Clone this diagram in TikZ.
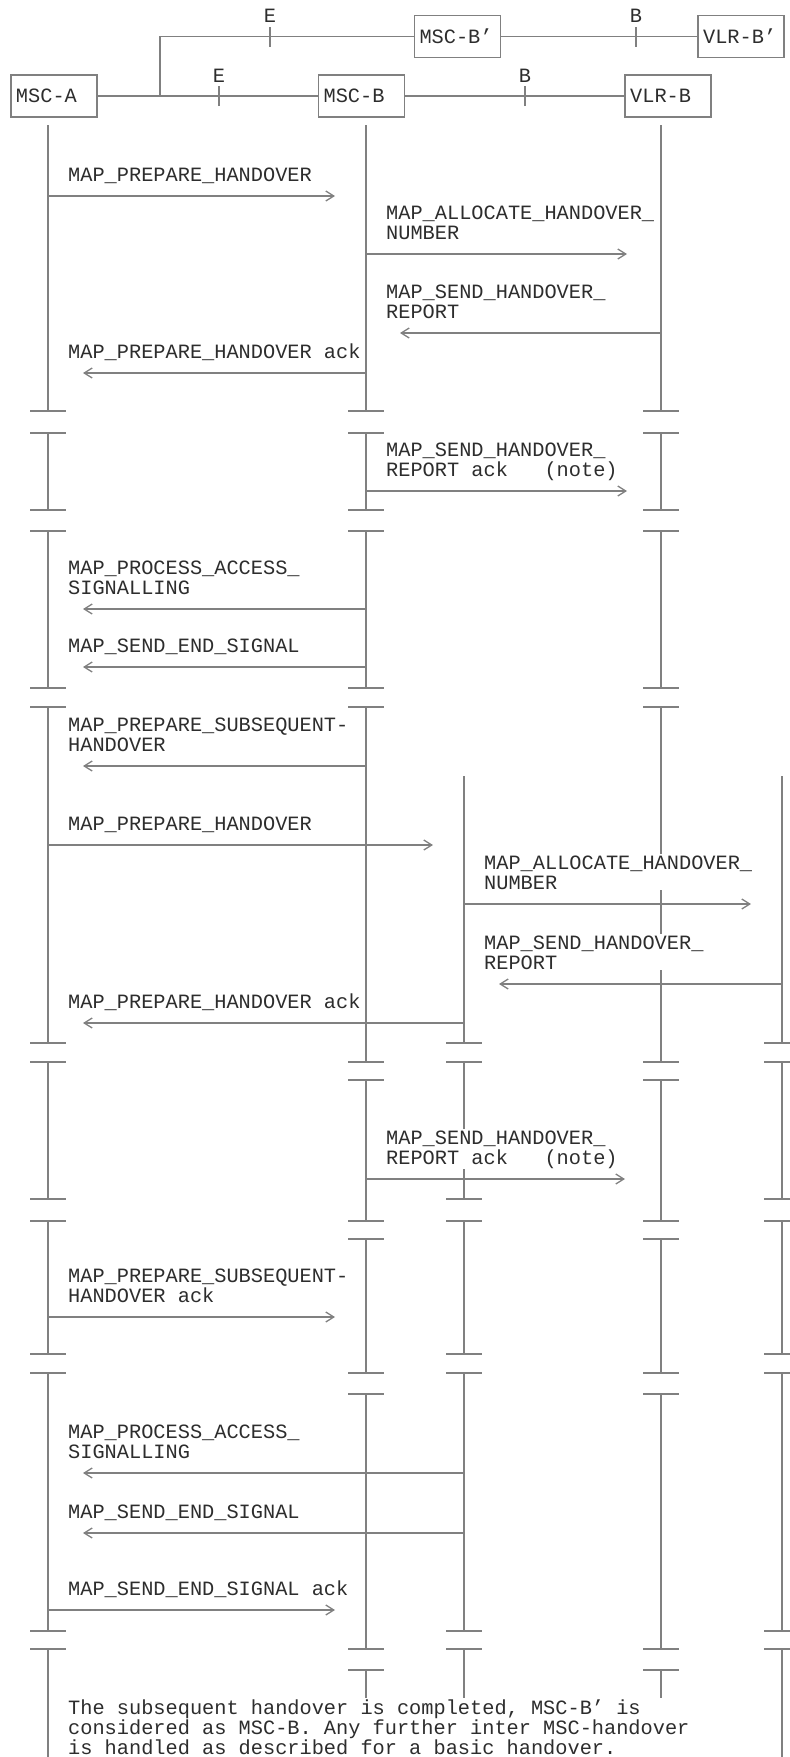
\documentclass[tikz,border=0pt]{standalone}
\usepackage{fontspec}
\setmainfont{Liberation Mono}
\usepackage{xcolor}
\usepackage{tikz}
\usetikzlibrary{arrows.meta,positioning}
\definecolor{seqgray}{RGB}{128,128,128}
\definecolor{seqink}{RGB}{45,45,45}
\newcommand{\seqfont}{\fontsize{20.3pt}{20pt}\selectfont}
\tikzset{
  entitybox/.style={
    rectangle,
    draw=seqgray,
    line width=1.6pt,
    text width=76pt,
    align=left,
    minimum height=42pt,
    inner xsep=5pt,
    inner ysep=0pt,
    text=seqink,
    font=\seqfont
  },
  ifline/.style={
    draw=seqgray,
    line width=1.6pt
  },
  ifmark/.style={
    above,
    inner sep=3pt,
    text=seqink,
    font=\seqfont
  },
  lifeline/.style={
    draw=seqgray,
    line width=1.3pt
  },
  breakbar/.style={
    draw=seqgray,
    line width=2pt
  },
  msgarrow/.style={
    -{Straight Barb[length=8pt,width=10pt]},
    draw=seqgray,
    line width=1.3pt
  },
  msglabel/.style={
    anchor=base west,
    align=left,
    fill=white,
    inner sep=1pt,
    text=seqink,
    font=\seqfont
  }
}

\begin{document}
\begin{tikzpicture}[x=1pt,y=-1pt]
\useasboundingbox (0,0) rectangle (790,1757);

% entities and the interfaces between them
\node[entitybox] (msca) at (54,96) {MSC-A};
\node[entitybox, right=220pt of msca] (mscb) {MSC-B};
\node[entitybox, right=219pt of mscb] (vlrb) {VLR-B};
\node[entitybox] (mscbp) at (457.5,36.5) {MSC-B'};
\node[entitybox, right=196pt of mscbp] (vlrbp) {VLR-B'};

\coordinate (fork) at (160,96);
\draw[ifline] (msca) -- (mscb);
\draw[ifline] (mscb) -- (vlrb);
\draw[ifline] (fork) |- (mscbp);
\draw[ifline] (mscbp) -- (vlrbp);

\draw[ifline] (219,106) -- (219,86) node[ifmark] (ifE) {E};
\draw[ifline] (525,106) -- (525,86) node[ifmark] (ifB) {B};
\draw[ifline] (270,46.5) -- (270,26.5) node[ifmark] (ifEp) {E};
\draw[ifline] (636,46.5) -- (636,26.5) node[ifmark] (ifBp) {B};

% lifelines
\foreach \x/\top/\bot in {48/125/1757,366/125/1700,661/125/1700,464/776/1700,782/776/1757}
  \draw[lifeline] (\x,\top) -- (\x,\bot);

% breaks in the lifelines
\foreach \x/\brks in {
  48/{411/433,510/531,688/707,1043/1062,1199/1221,1354/1373,1631/1649},
  366/{411/433,510/531,688/707,1062/1080,1221/1239,1373/1394,1649/1670},
  661/{411/433,510/531,688/707,1062/1080,1221/1239,1373/1394,1649/1670},
  464/{1043/1062,1199/1221,1354/1373,1631/1649},
  782/{1043/1062,1199/1221,1354/1373,1631/1649}}
  \foreach \a/\b in \brks {
    \fill[white] (\x-3,\a+1) rectangle (\x+3,\b-1);
    \draw[breakbar] (\x-18,\a) -- (\x+18,\a);
    \draw[breakbar] (\x-18,\b) -- (\x+18,\b);
  }

% messages
\foreach \n/\y/\xs/\xe/\xl/\txt in {
  1/196/48/335/67/{MAP\_PREPARE\_HANDOVER},
  2/254/366/627/385/{MAP\_ALLOCATE\_HANDOVER\_\\NUMBER},
  3/333/661/400/385/{MAP\_SEND\_HANDOVER\_\\REPORT},
  4/373/366/83/67/{MAP\_PREPARE\_HANDOVER ack},
  5/491/366/627/385/{MAP\_SEND\_HANDOVER\_\\REPORT ack\ \ \ (note)},
  6/609/366/83/67/{MAP\_PROCESS\_ACCESS\_\\SIGNALLING},
  7/667/366/83/67/{MAP\_SEND\_END\_SIGNAL},
  8/766/366/83/67/{MAP\_PREPARE\_SUBSEQUENT-\\HANDOVER},
  9/845/48/433/67/{MAP\_PREPARE\_HANDOVER},
  10/904/464/751/483/{MAP\_ALLOCATE\_HANDOVER\_\\NUMBER},
  11/984/782/499/483/{MAP\_SEND\_HANDOVER\_\\REPORT},
  12/1023/464/83/67/{MAP\_PREPARE\_HANDOVER ack},
  13/1179/366/625/385/{MAP\_SEND\_HANDOVER\_\\REPORT ack\ \ \ (note)},
  14/1317/48/335/67/{MAP\_PREPARE\_SUBSEQUENT-\\HANDOVER ack},
  15/1473/464/83/67/{MAP\_PROCESS\_ACCESS\_\\SIGNALLING},
  16/1533/464/83/67/{MAP\_SEND\_END\_SIGNAL},
  17/1610/48/335/67/{MAP\_SEND\_END\_SIGNAL ack}}{
  \coordinate (m\n s) at (\xs,\y);
  \coordinate (m\n e) at (\xe,\y);
  \draw[msgarrow] (m\n s) -- (m\n e);
  \node[msglabel] (lbl\n) at (\xl,\y-15) {\txt};
}

\node[msglabel] (closing) at (67,1754) {The subsequent handover is completed, MSC-B' is\\considered as MSC-B. Any further inter MSC-handover\\is handled as described for a basic handover.};
\end{tikzpicture}
\end{document}
